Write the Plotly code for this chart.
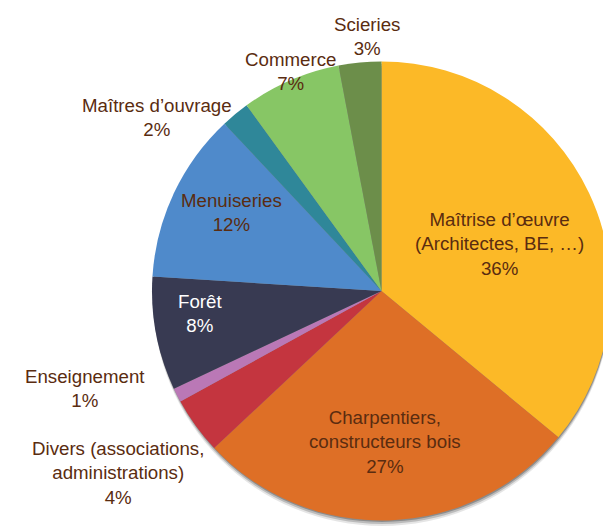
import plotly.graph_objects as go

# ---- data ----
labels = [
    "Maîtrise d’œuvre<br>(Architectes, BE, …)",
    "Charpentiers,<br>constructeurs bois",
    "Divers (associations,<br>administrations)",
    "Enseignement",
    "Forêt",
    "Menuiseries",
    "Maîtres d’ouvrage",
    "Commerce",
    "Scieries",
]
values = [36, 27, 4, 1, 8, 12, 2, 7, 3]
colors = ["#FCB927", "#DE6F26", "#C4353F", "#BA78B6", "#383A52",
          "#4F8ACB", "#2F8799", "#87C665", "#6C8E4A"]
text_colors = ["#5A2C10", "#5A2C10", "#5A2C10", "#5A2C10", "#FFFFFF",
               "#5A2C10", "#5A2C10", "#5A2C10", "#5A2C10"]
# label centre positions in window pixels (layout only)
label_pos = [(499, 244), (385, 442), (118, 473), (85, 388), (200, 313),
             (232, 212), (157, 118), (290, 72), (367, 36)]

WIN_W, WIN_H = 611, 529
OFF = 8  # default body margin of the page
W, H = WIN_W - OFF, WIN_H - OFF
FONT = "Liberation Sans, Arial, Helvetica, sans-serif"


def fx(px):
    return (px - OFF) / W


def fy(py):
    return 1 - (py - OFF) / H


# pie geometry (window pixels)
cx, cy, r = 383, 291, 231
dom_x = [fx(cx - r), min(1.0, fx(cx + r))]
dom_y = [fy(cy + r), fy(cy - r)]

fig = go.Figure()

# soft shadow under the pie
for dy, alpha in [(6, 0.10), (4, 0.18), (2, 0.25)]:
    fig.add_trace(go.Pie(
        values=[1], sort=False, textinfo="none", hoverinfo="skip",
        marker=dict(colors=[f"rgba(0,0,0,{alpha})"]),
        domain=dict(x=[dom_x[0] + 1 / W, min(1.0, dom_x[1] + 1 / W)],
                    y=[dom_y[0] - dy / H, dom_y[1] - dy / H]),
        showlegend=False,
    ))

fig.add_trace(go.Pie(
    labels=[l.replace("<br>", " ") for l in labels],
    values=values,
    sort=False,
    direction="clockwise",
    rotation=0,
    textinfo="none",
    marker=dict(colors=colors, line=dict(width=0)),
    domain=dict(x=dom_x, y=dom_y),
    showlegend=False,
))

for lab, v, (px, py), tc in zip(labels, values, label_pos, text_colors):
    fig.add_annotation(
        x=fx(px), y=fy(py), xref="paper", yref="paper",
        text=f"{lab}<br>{v}%", showarrow=False,
        xanchor="center", yanchor="middle", align="center",
        font=dict(family=FONT, size=18.7, color=tc),
    )

fig.update_layout(
    width=W, height=H,
    margin=dict(l=0, r=0, t=0, b=0),
    paper_bgcolor="white", plot_bgcolor="white",
    font=dict(family=FONT),
)

fig.write_html("out.html")
